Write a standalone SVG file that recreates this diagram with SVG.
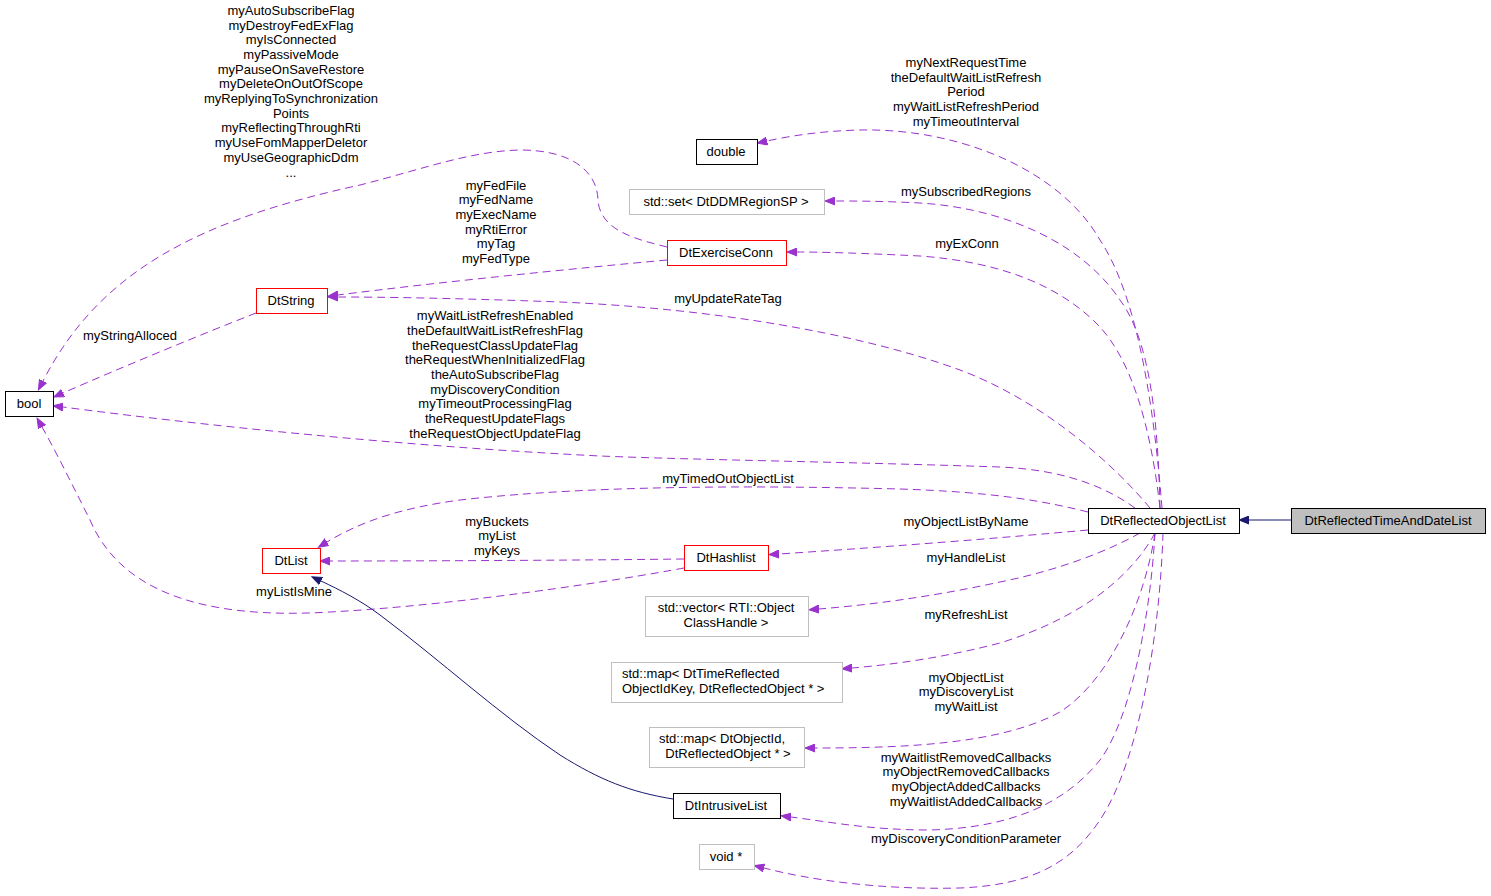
<svg xmlns="http://www.w3.org/2000/svg" width="1491" height="896" viewBox="0 0 1491 896">
<style>
text{font-family:"Liberation Sans",Arial,sans-serif;font-size:13px;fill:#000;text-anchor:middle}
.n rect{fill:#fff;stroke:#000;stroke-width:1}
.red rect{stroke:#ff0000}
.gray rect{stroke:#bfbfbf}
.cur rect{fill:#bfbfbf}
.e{fill:none;stroke:#9a32cd;stroke-width:1;stroke-dasharray:8,5;marker-end:url(#pa)}
.i{fill:none;stroke:#191970;stroke-width:1;marker-end:url(#na)}
</style>
<defs>
<marker id="pa" markerUnits="userSpaceOnUse" markerWidth="11" markerHeight="9" viewBox="0 0 11 9" refX="0" refY="4.5" orient="auto"><path d="M0,0.5 L10,4.5 L0,8.5 z" fill="#9a32cd" stroke="#9a32cd"/></marker>
<marker id="na" markerUnits="userSpaceOnUse" markerWidth="11" markerHeight="9" viewBox="0 0 11 9" refX="0" refY="4.5" orient="auto"><path d="M0,0.5 L10,4.5 L0,8.5 z" fill="#191970" stroke="#191970"/></marker>
</defs>
<rect width="1491" height="896" fill="#fff"/>
<g id="connectors">
<path class="e" d="M1162,508 C1155,420 1140,300 1100,240 C1060,170 960,128 860,130 C820,131 790,136 767,141"/>
<path class="e" d="M1160,508 C1158,420 1150,340 1120,300 C1080,240 1000,208 920,203 C880,201 855,201 835,201"/>
<path class="e" d="M1160,508 C1150,420 1130,360 1100,327 C1060,285 1000,262 920,256 C860,253 820,252 797,252"/>
<path class="e" d="M1150,508 C1110,460 1040,400 960,370 C850,330 700,308 560,302 C450,298 380,297 338,297"/>
<path class="e" d="M1135,508 C1110,490 1070,470 1000,467 C850,462 700,460 600,456 C400,446 200,425 63,407"/>
<path class="e" d="M1088,512 C1040,500 990,492 900,489 C780,486 600,484 460,500 C400,508 360,522 327,542"/>
<path class="e" d="M1088,530 C1000,538 900,546 779,554"/>
<path class="e" d="M1140,533 C1110,550 1060,570 1000,582 C940,595 880,604 819,609"/>
<path class="e" d="M1155,533 C1135,570 1090,615 1000,643 C950,656 900,664 852,668"/>
<path class="e" d="M1155,533 C1145,600 1110,680 1060,712 C1000,745 900,748 815,748"/>
<path class="e" d="M1155,533 C1150,620 1130,720 1100,760 C1060,810 1000,828 930,830 C870,830 830,822 791,817"/>
<path class="e" d="M1163,533 C1160,630 1140,760 1100,820 C1070,865 1030,885 960,888 C880,890 810,880 764,868"/>
<path class="e" d="M667,247 C640,240 600,232 598,200 C597,170 570,150 520,150 C470,151 420,170 360,185 C200,220 100,270 43,381"/>
<path class="e" d="M667,260 C580,268 440,282 338,295"/>
<path class="e" d="M256,313 C200,335 120,368 63,393"/>
<path class="e" d="M684,559 C600,560 450,561 330,561"/>
<path class="e" d="M684,568 C620,580 460,605 330,612 C200,620 120,590 90,520 C70,480 55,450 42,427"/>
<path class="i" d="M673,799 C630,792 600,780 560,755 C500,715 440,660 380,615 C360,600 340,590 321,581"/>
<path class="i" d="M1291,520 L1249,520"/>
<g id="labels">
<text x="291" y="15">myAutoSubscribeFlag</text>
<text x="291" y="30">myDestroyFedExFlag</text>
<text x="291" y="44">myIsConnected</text>
<text x="291" y="59">myPassiveMode</text>
<text x="291" y="74">myPauseOnSaveRestore</text>
<text x="291" y="88">myDeleteOnOutOfScope</text>
<text x="291" y="103">myReplyingToSynchronization</text>
<text x="291" y="118">Points</text>
<text x="291" y="132">myReflectingThroughRti</text>
<text x="291" y="147">myUseFomMapperDeletor</text>
<text x="291" y="162">myUseGeographicDdm</text>
<text x="291" y="177">...</text>
<text x="966" y="67">myNextRequestTime</text>
<text x="966" y="82">theDefaultWaitListRefresh</text>
<text x="966" y="96">Period</text>
<text x="966" y="111">myWaitListRefreshPeriod</text>
<text x="966" y="126">myTimeoutInterval</text>
<text x="966" y="196">mySubscribedRegions</text>
<text x="967" y="248">myExConn</text>
<text x="496" y="190">myFedFile</text>
<text x="496" y="204">myFedName</text>
<text x="496" y="219">myExecName</text>
<text x="496" y="234">myRtiError</text>
<text x="496" y="248">myTag</text>
<text x="496" y="263">myFedType</text>
<text x="728" y="303">myUpdateRateTag</text>
<text x="130" y="340">myStringAlloced</text>
<text x="495" y="320">myWaitListRefreshEnabled</text>
<text x="495" y="335">theDefaultWaitListRefreshFlag</text>
<text x="495" y="350">theRequestClassUpdateFlag</text>
<text x="495" y="364">theRequestWhenInitializedFlag</text>
<text x="495" y="379">theAutoSubscribeFlag</text>
<text x="495" y="394">myDiscoveryCondition</text>
<text x="495" y="408">myTimeoutProcessingFlag</text>
<text x="495" y="423">theRequestUpdateFlags</text>
<text x="495" y="438">theRequestObjectUpdateFlag</text>
<text x="728" y="483">myTimedOutObjectList</text>
<text x="966" y="526">myObjectListByName</text>
<text x="497" y="526">myBuckets</text>
<text x="497" y="540">myList</text>
<text x="497" y="555">myKeys</text>
<text x="966" y="562">myHandleList</text>
<text x="294" y="596">myListIsMine</text>
<text x="966" y="619">myRefreshList</text>
<text x="966" y="682">myObjectList</text>
<text x="966" y="696">myDiscoveryList</text>
<text x="966" y="711">myWaitList</text>
<text x="966" y="762">myWaitlistRemovedCallbacks</text>
<text x="966" y="776">myObjectRemovedCallbacks</text>
<text x="966" y="791">myObjectAddedCallbacks</text>
<text x="966" y="806">myWaitlistAddedCallbacks</text>
<text x="966" y="843">myDiscoveryConditionParameter</text>
</g>
</g>
<g id="DtReflectedTimeAndDateList" class="n cur"><rect x="1291.5" y="508.5" width="194" height="25"/><text x="1388" y="525">DtReflectedTimeAndDateList</text></g>
<g id="DtReflectedObjectList" class="n"><rect x="1088.5" y="508.5" width="151" height="25"/><text x="1163" y="525">DtReflectedObjectList</text></g>
<g id="double" class="n"><rect x="696.5" y="139.5" width="61" height="25"/><text x="726" y="156">double</text></g>
<g id="stdset" class="n gray"><rect x="629.5" y="189.5" width="195" height="25"/><text x="726" y="206">std::set&lt; DtDDMRegionSP &gt;</text></g>
<g id="DtExerciseConn" class="n red"><rect x="667.5" y="240.5" width="119" height="25"/><text x="726" y="257">DtExerciseConn</text></g>
<g id="DtString" class="n red"><rect x="256.5" y="288.5" width="71" height="25"/><text x="291" y="305">DtString</text></g>
<g id="bool" class="n"><rect x="5.5" y="391.5" width="48" height="25"/><text x="29" y="408">bool</text></g>
<g id="DtList" class="n red"><rect x="262.5" y="548.5" width="58" height="25"/><text x="291" y="565">DtList</text></g>
<g id="DtHashlist" class="n red"><rect x="684.5" y="545.5" width="84" height="25"/><text x="726" y="562">DtHashlist</text></g>
<g id="stdvector" class="n gray"><rect x="645.5" y="596.5" width="163" height="40"/><text x="726" y="612">std::vector&lt; RTI::Object</text><text x="726" y="627">ClassHandle &gt;</text></g>
<g id="stdmap1" class="n gray"><rect x="611.5" y="662.5" width="231" height="40"/><text x="622" y="678" style="text-anchor:start">std::map&lt; DtTimeReflected</text><text x="622" y="693" style="text-anchor:start">ObjectIdKey, DtReflectedObject * &gt;</text></g>
<g id="stdmap2" class="n gray"><rect x="649.5" y="727.5" width="155" height="40"/><text x="722" y="743">std::map&lt; DtObjectId,</text><text x="728" y="758">DtReflectedObject * &gt;</text></g>
<g id="DtIntrusiveList" class="n"><rect x="673.5" y="793.5" width="107" height="25"/><text x="726" y="810">DtIntrusiveList</text></g>
<g id="void" class="n gray"><rect x="699.5" y="844.5" width="55" height="25"/><text x="726" y="861">void *</text></g>
</svg>
